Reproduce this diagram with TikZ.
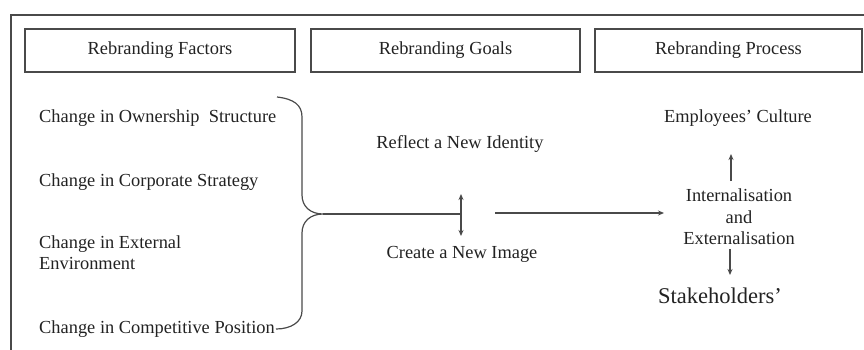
\documentclass[tikz,border=0pt]{standalone}
\usepackage{fontspec}
\setmainfont{Liberation Serif}
\usetikzlibrary{arrows.meta}
\definecolor{txt}{HTML}{222222}
\definecolor{ln}{HTML}{4A4A4A}
\tikzset{
  lbl/.style={inner sep=0pt, text=txt, font=\fontsize{18.4}{21.5}\selectfont},
  hbox/.style={draw=ln, line width=1.3pt, minimum height=43pt, inner sep=0pt, text=txt, font=\fontsize{18.4}{21.5}\selectfont},
  conn/.style={draw=ln, line width=1.2pt},
  arr/.style={conn, -{Stealth[length=6pt,width=5pt]}},
  darr/.style={conn, {Stealth[length=6pt,width=5pt]}-{Stealth[length=6pt,width=5pt]}},
}
\begin{document}
\begin{tikzpicture}[x=1pt,y=-1pt]
\useasboundingbox (0,0) rectangle (864,350);
% outer frame (clipped on right and bottom)
\coordinate (fr1) at (11,350);
\coordinate (fr2) at (11,15);
\coordinate (fr3) at (864,15);
\draw[ln, line width=1.6pt] (fr1) -- (fr2) -- (fr3);
% header boxes
\node[hbox, minimum width=270pt] (hf) at (160,50.5) {Rebranding Factors};
\node[hbox, minimum width=269pt] (hg) at (445.5,50.5) {Rebranding Goals};
\node[hbox, minimum width=267pt] (hp) at (728.5,50.5) {Rebranding Process};
% factors
\node[lbl, anchor=base west] (f1) at (39,122) {Change in Ownership\ \ Structure};
\node[lbl, anchor=base west] (f2) at (39,186) {Change in Corporate Strategy};
\node[lbl, anchor=base west] (f3) at (39,248) {Change in External};
\node[lbl, anchor=base west] (f3b) at (39,269) {Environment};
\node[lbl, anchor=base west] (f4) at (39,333) {Change in Competitive Position};
% brace
\coordinate (bt) at (277,97);
\coordinate (tip) at (323,214);
\coordinate (bb) at (276,329);
\draw[conn] (bt) .. controls (294,99) and (302,105) .. (302,117) -- (302,195)
  .. controls (302,207) and (311,214) .. (tip)
  .. controls (311,214) and (302,221) .. (302,233) -- (302,311)
  .. controls (302,322) and (291,329) .. (bb);
% goals
\node[lbl, anchor=base] (g1) at (460,148) {Reflect a New Identity};
\node[lbl, anchor=base] (g2) at (462,258) {Create a New Image};
\coordinate (dm) at (461,214);
\coordinate (dt) at (461,194);
\coordinate (db) at (461,236);
\draw[conn] (tip) -- (dm);
\draw[darr] (dt) -- (db);
% process
\node[lbl, anchor=base] (emp) at (738,122) {Employees’ Culture};
\node[lbl, align=center] (proc) at (739,217) {Internalisation\\and\\Externalisation};
\node[lbl, anchor=base, font=\fontsize{22.5}{26}\selectfont] (stk) at (720,303) {Stakeholders’};
\coordinate (a1) at (495,213);
\coordinate (a2) at (664,213);
\draw[arr] (a1) -- (a2);
\coordinate (u1) at (731,181);
\coordinate (u2) at (731,154);
\draw[arr] (u1) -- (u2);
\coordinate (d1) at (730,249);
\coordinate (d2) at (730,275);
\draw[arr] (d1) -- (d2);
\end{tikzpicture}
\end{document}
